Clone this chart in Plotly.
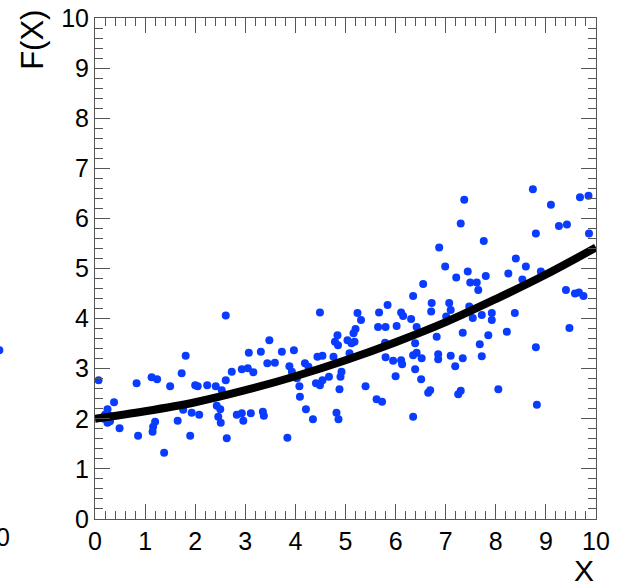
import plotly.graph_objects as go

# Scatter data
pts_x = [0.07, 0.83, 1.13, 1.24, 1.50, 0.38, 0.25, 0.20, 0.29, 0.18, 0.25, 0.30, 0.49, 0.86, 1.20, 1.16, 1.15, 1.38,
         2.61, 1.81, 1.73, 3.07, 3.31, 2.73, 2.93, 3.05, 3.16, 2.61, 2.00, 2.05, 2.24, 2.41, 2.53,
         1.76, 1.93, 2.08, 1.65, 1.90, 2.43, 2.50, 2.46, 2.51, 2.63, 2.83, 2.93, 2.96, 3.11,
         4.49, 3.48, 3.73, 3.97, 3.44, 3.59, 3.88, 3.93, 4.19, 4.26, 4.44, 4.54, 4.76, 4.84, 4.79, 4.85,
         5.04, 5.08, 4.03, 4.08, 4.09, 4.41, 4.49, 4.54, 4.67, 4.92, 4.90, 4.88, 3.35, 3.37, 4.21, 4.35,
         4.82, 4.86, 3.84,
         6.55, 6.35, 5.84, 5.24, 5.31, 5.67, 6.11, 6.15, 6.31, 6.72, 6.71, 5.20, 5.16, 5.65, 5.80, 6.02,
         6.42, 5.12, 5.18, 5.79, 5.80, 5.95, 6.11, 6.13, 6.35, 6.42, 6.52, 6.39, 6.00, 6.39, 6.51, 6.69,
         6.65, 5.40, 5.62, 5.73, 6.35,
         7.37, 7.30, 7.76, 6.87, 8.40, 6.99, 7.21, 7.44, 7.80, 8.25, 7.49, 7.62, 7.65, 7.07, 7.10, 7.01,
         7.47, 7.54, 7.72, 7.92, 7.92, 8.38, 6.82, 7.34, 7.85, 8.22, 7.68, 6.85, 6.85, 7.10, 7.34, 7.72,
         7.19, 7.25, 7.30, 8.05,
         8.74, 9.10, 9.68, 9.85, 9.26, 9.42, 8.80, 9.86, 8.60, 8.53, 8.90, 9.40, 9.58, 9.66, 9.75, 9.47,
         8.80, 8.82]
pts_y = [2.77, 2.71, 2.83, 2.79, 2.65, 2.33, 2.19, 2.08, 2.06, 2.00, 1.92, 1.95, 1.81, 1.66, 1.94, 1.84, 1.74, 1.32,
         4.06, 3.26, 2.91, 3.32, 3.34, 2.94, 2.99, 3.01, 2.93, 2.77, 2.67, 2.65, 2.67, 2.65, 2.57,
         2.18, 2.12, 2.08, 1.96, 1.66, 2.26, 2.19, 2.04, 1.92, 1.61, 2.08, 2.11, 1.96, 2.11,
         4.12, 3.57, 3.34, 3.37, 3.11, 3.12, 3.05, 2.94, 3.11, 3.04, 3.24, 3.26, 3.24, 3.67, 3.54, 3.47,
         3.57, 3.31, 2.81, 2.65, 2.44, 2.71, 2.67, 2.77, 2.84, 2.94, 2.84, 2.59, 2.14, 2.06, 2.19, 1.99,
         2.12, 1.99, 1.62,
         4.69, 4.45, 4.27, 4.11, 3.97, 4.12, 4.12, 4.05, 3.99, 4.31, 4.14, 3.79, 3.71, 3.83, 3.83, 3.85,
         3.83, 3.51, 3.54, 3.52, 3.23, 3.16, 3.17, 3.09, 3.27, 3.32, 3.21, 3.51, 2.85, 2.99, 2.79, 2.57,
         2.52, 2.65, 2.39, 2.34, 2.04,
         6.37, 5.90, 5.55, 5.42, 5.20, 5.04, 4.82, 4.94, 4.85, 4.90, 4.72, 4.72, 4.57, 4.31, 4.17, 4.04,
         4.24, 4.01, 4.07, 4.11, 3.97, 4.11, 3.64, 3.72, 3.67, 3.74, 3.49, 3.29, 3.19, 3.26, 3.21, 3.25,
         3.05, 2.49, 2.56, 2.59,
         6.58, 6.27, 6.42, 6.45, 5.85, 5.88, 5.70, 5.70, 5.04, 4.78, 4.94, 4.57, 4.50, 4.52, 4.45, 3.81,
         3.43, 2.28]

# Fitted curve, values read at integer X
curve_x = [0, 1, 2, 3, 4, 5, 6, 7, 8, 9, 10]
curve_y = [2.00, 2.15, 2.33, 2.57, 2.85, 3.17, 3.53, 3.93, 4.39, 4.88, 5.42]

tick_vals = [0, 1, 2, 3, 4, 5, 6, 7, 8, 9, 10]
tick_text = ["0", "1", "2", "3", "4", "5", "6", "7", "8", "9", "10"]

FONT = "Liberation Sans, Arial, Helvetica, sans-serif"
AXC = "#555555"
BLUE = "#0a3cff"

fig = go.Figure()
fig.add_trace(go.Scatter(x=pts_x, y=pts_y, mode="markers",
                         marker=dict(color=BLUE, size=8, line=dict(width=0)),
                         showlegend=False, hoverinfo="skip"))
fig.add_trace(go.Scatter(x=curve_x, y=curve_y, mode="lines",
                         line=dict(color="black", width=8, shape="spline"),
                         showlegend=False, hoverinfo="skip"))

axis_common = dict(
    range=[0, 10], tickvals=tick_vals, ticktext=tick_text,
    ticks="inside", ticklen=15, tickwidth=1, tickcolor=AXC,
    minor=dict(ticks="inside", ticklen=8, dtick=0.2, tick0=0, tickcolor=AXC, tickwidth=1),
    showline=True, linecolor=AXC, linewidth=1, mirror="ticks",
    showgrid=False, zeroline=False, automargin=False,
    tickfont=dict(family=FONT, size=25, color="black"),
)
fig.update_xaxes(**axis_common)
fig.update_yaxes(**axis_common)

fig.update_layout(
    width=619, height=586,
    margin=dict(l=95, r=23, t=18, b=67, autoexpand=False),
    paper_bgcolor="white", plot_bgcolor="white",
    annotations=[
        dict(text="X", xref="paper", yref="paper", x=1.0, y=-0.102, xanchor="right", yanchor="middle",
             showarrow=False, font=dict(family=FONT, size=30, color="black")),
        dict(text="F(X)", xref="paper", yref="paper", x=-0.124, y=1.02, xanchor="center", yanchor="top",
             textangle=-90, showarrow=False, font=dict(family=FONT, size=31, color="black")),
        dict(text="0", xref="paper", yref="paper", x=-0.184, y=-0.036, xanchor="center", yanchor="middle",
             showarrow=False, font=dict(family=FONT, size=25, color="black")),
    ],
    shapes=[
        dict(type="circle", xref="paper", yref="paper", x0=-0.199, x1=-0.183, y0=0.329, y1=0.345,
             fillcolor=BLUE, line=dict(width=0)),
    ],
)

fig.write_html("out.html", config={"displayModeBar": False},
               post_script="document.body.style.margin='0';")
